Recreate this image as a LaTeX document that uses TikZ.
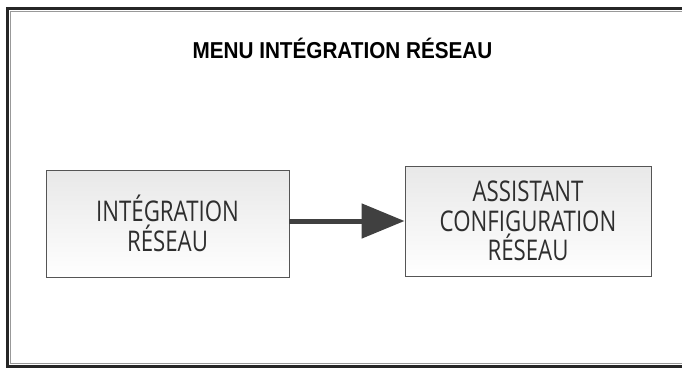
\documentclass[tikz,border=0pt]{standalone}
\usepackage{fontspec}
\usetikzlibrary{arrows.meta}
\newfontfamily\titlefont[FakeStretch=0.9]{Liberation Sans}
\newfontfamily\boxfont[FakeStretch=0.78]{Open Sans}
\definecolor{boxline}{HTML}{555555}
\definecolor{boxtext}{HTML}{2E2E2E}
\definecolor{arrowgray}{HTML}{404040}

\begin{document}
\begin{tikzpicture}[x=1pt,y=1pt,
  menubox/.style={draw=boxline, line width=0.9pt, top color=black!9, bottom color=white,
    align=center, text=boxtext, font=\boxfont\fontsize{28.5}{29.5}\selectfont, inner sep=0pt},
  flow/.style={draw=arrowgray, line width=5pt, -{Triangle[length=43pt,width=34pt]}}]
\useasboundingbox (0,0) rectangle (682,368);
% frame, open on the right
\draw[line width=3pt, black!85] (684,359.5) -- (7.5,359.5) -- (7.5,1.5) -- (684,1.5);
\draw[line width=0.8pt, black!40] (684,356.5) -- (10.5,356.5) -- (10.5,4.5) -- (684,4.5);

\node[font=\titlefont\bfseries\fontsize{23}{27}\selectfont, anchor=base] (title) at (342.5,310) {MENU INTÉGRATION RÉSEAU};

\node[menubox, minimum width=243pt, minimum height=107pt] (integ) at (167.5,144.5) {INTÉGRATION\\RÉSEAU};
\node[menubox, minimum width=246pt, minimum height=110pt] (assist) at (528,147) {ASSISTANT\\CONFIGURATION\\RÉSEAU};

\draw[flow] (integ.east |- assist.west) -- (assist.west);
\end{tikzpicture}
\end{document}
